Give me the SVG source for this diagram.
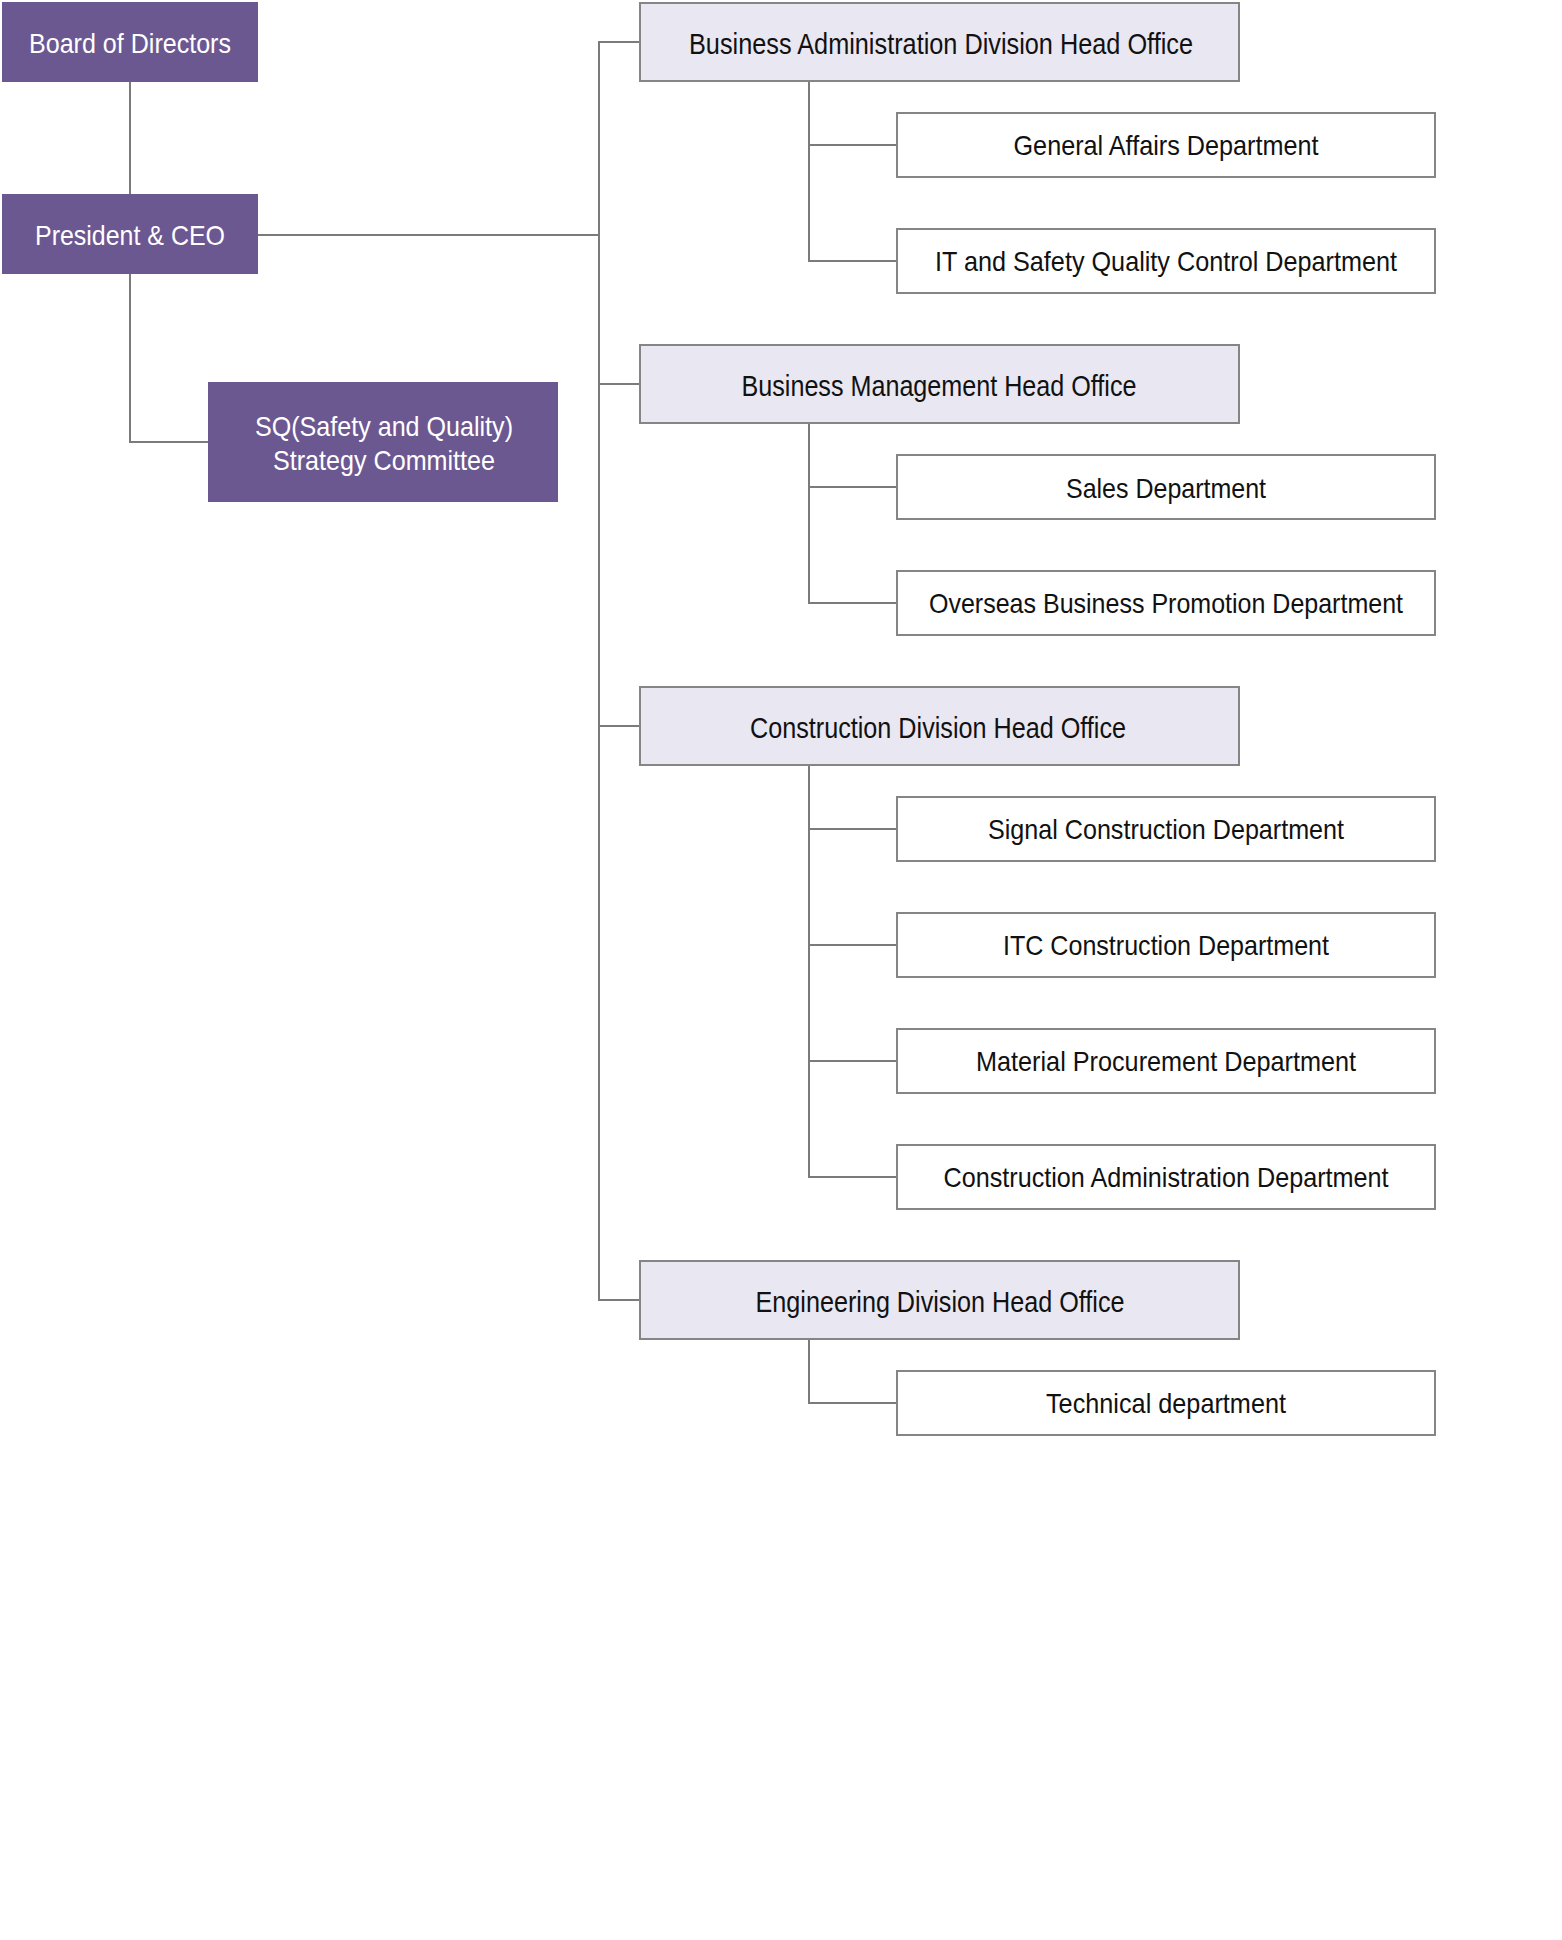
<svg xmlns="http://www.w3.org/2000/svg" width="1562" height="1940" viewBox="0 0 1562 1940">
<style>
.bg{fill:#ffffff}
.exec rect{fill:#6c5891}
.exec text{fill:#ffffff;font-family:"Liberation Sans",Arial,sans-serif;font-size:28px;text-anchor:middle}
.ho rect{fill:#e9e7f1;stroke:#858585;stroke-width:2}
.ho text{fill:#111111;font-family:"Liberation Sans",Arial,sans-serif;font-size:29px;text-anchor:middle}
.dept rect{fill:#ffffff;stroke:#858585;stroke-width:2}
.dept text{fill:#111111;font-family:"Liberation Sans",Arial,sans-serif;font-size:28px;text-anchor:middle}
.conn path{fill:none;stroke:#7b7b7b;stroke-width:2}
</style>
<rect class="bg" x="0" y="0" width="1562" height="1940"/>
<g id="connectors" class="conn">
<path d="M130 82 V194"/>
<path d="M130 274 V442 H208"/>
<path d="M258 235 H599"/>
<path d="M640 42 H599 V1300 H640"/>
<path d="M599 384 H640"/>
<path d="M599 726 H640"/>
<path d="M809 81 V261 H897"/>
<path d="M809 145 H897"/>
<path d="M809 423 V603 H897"/>
<path d="M809 487 H897"/>
<path d="M809 765 V1177 H897"/>
<path d="M809 829 H897"/>
<path d="M809 945 H897"/>
<path d="M809 1061 H897"/>
<path d="M809 1339 V1403 H897"/>
</g>
<g id="board" class="exec"><rect x="2" y="2" width="256" height="80"/><text x="130" y="53" textLength="202" lengthAdjust="spacingAndGlyphs">Board of Directors</text></g>
<g id="president" class="exec"><rect x="2" y="194" width="256" height="80"/><text x="130" y="245" textLength="190" lengthAdjust="spacingAndGlyphs">President &amp; CEO</text></g>
<g id="sq" class="exec"><rect x="208" y="382" width="350" height="120"/><text x="384" y="436" textLength="258" lengthAdjust="spacingAndGlyphs">SQ(Safety and Quality)</text><text x="384" y="470" textLength="222" lengthAdjust="spacingAndGlyphs">Strategy Committee</text></g>
<g id="badho" class="ho"><rect x="640" y="3" width="599" height="78"/><text x="941" y="54" textLength="504" lengthAdjust="spacingAndGlyphs">Business Administration Division Head Office</text></g>
<g id="gad" class="dept"><rect x="897" y="113" width="538" height="64"/><text x="1166" y="155" textLength="305" lengthAdjust="spacingAndGlyphs">General Affairs Department</text></g>
<g id="itsq" class="dept"><rect x="897" y="229" width="538" height="64"/><text x="1166" y="271" textLength="462" lengthAdjust="spacingAndGlyphs">IT and Safety Quality Control Department</text></g>
<g id="bmho" class="ho"><rect x="640" y="345" width="599" height="78"/><text x="939" y="396" textLength="395" lengthAdjust="spacingAndGlyphs">Business Management Head Office</text></g>
<g id="sales" class="dept"><rect x="897" y="455" width="538" height="64"/><text x="1166" y="498" textLength="200" lengthAdjust="spacingAndGlyphs">Sales Department</text></g>
<g id="overseas" class="dept"><rect x="897" y="571" width="538" height="64"/><text x="1166" y="613" textLength="474" lengthAdjust="spacingAndGlyphs">Overseas Business Promotion Department</text></g>
<g id="cdho" class="ho"><rect x="640" y="687" width="599" height="78"/><text x="938" y="738" textLength="376" lengthAdjust="spacingAndGlyphs">Construction Division Head Office</text></g>
<g id="signal" class="dept"><rect x="897" y="797" width="538" height="64"/><text x="1166" y="839" textLength="356" lengthAdjust="spacingAndGlyphs">Signal Construction Department</text></g>
<g id="itc" class="dept"><rect x="897" y="913" width="538" height="64"/><text x="1166" y="955" textLength="326" lengthAdjust="spacingAndGlyphs">ITC Construction Department</text></g>
<g id="material" class="dept"><rect x="897" y="1029" width="538" height="64"/><text x="1166" y="1071" textLength="380" lengthAdjust="spacingAndGlyphs">Material Procurement Department</text></g>
<g id="constadmin" class="dept"><rect x="897" y="1145" width="538" height="64"/><text x="1166" y="1187" textLength="445" lengthAdjust="spacingAndGlyphs">Construction Administration Department</text></g>
<g id="edho" class="ho"><rect x="640" y="1261" width="599" height="78"/><text x="940" y="1312" textLength="369" lengthAdjust="spacingAndGlyphs">Engineering Division Head Office</text></g>
<g id="technical" class="dept"><rect x="897" y="1371" width="538" height="64"/><text x="1166" y="1413" textLength="240" lengthAdjust="spacingAndGlyphs">Technical department</text></g>
</svg>
